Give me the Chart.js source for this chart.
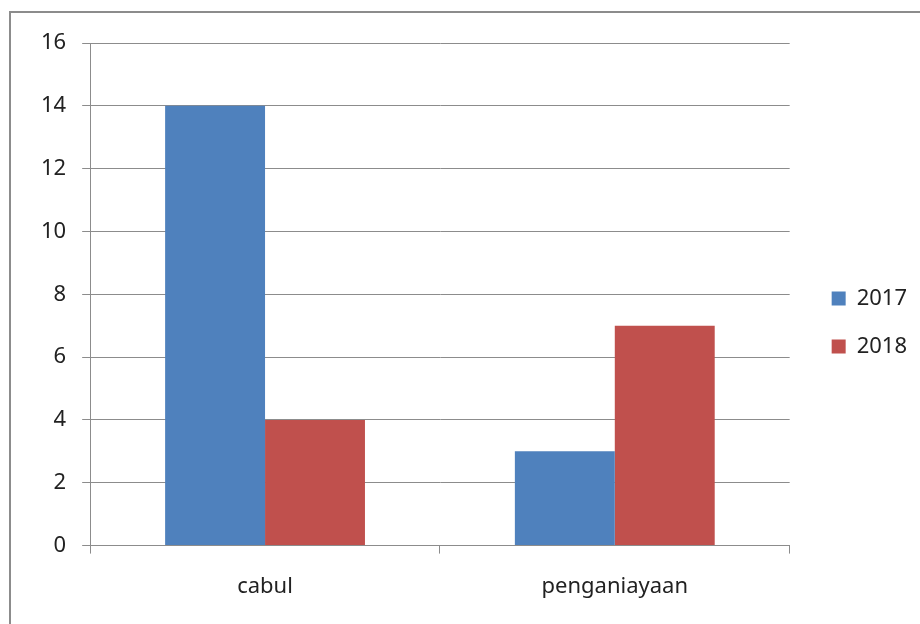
<!DOCTYPE html>
<html>
<head>
<meta charset="utf-8">
<script src="https://cdn.jsdelivr.net/npm/chart.js@4"></script>
<style>
  body { margin: 0; background: #fff; }
  #wrap { position: relative; width: 920px; height: 624px; overflow: hidden; }
  #frame { position: absolute; left: 9px; top: 11px; width: 940px; height: 640px; border: 2px solid #8c8c8c; }
  #grafica { position: absolute; left: 0; top: 0; }
</style>
</head>
<body>
<div id="wrap">
  <div id="frame"></div>
  <canvas id="grafica" width="920" height="624"></canvas>
</div>
<script>
const kategori = ['cabul', 'penganiayaan'];
const tahun = ['2017', '2018'];
const nilai2017 = [14, 3];
const nilai2018 = [4, 7];
const warna = ['rgb(79, 129, 189)', 'rgb(192, 80, 77)'];

// geser legenda sedikit, seperti di Excel
const geserLegenda = {
  id: 'geserLegenda',
  afterLayout(chart) {
    chart.legend.left += 16;
    chart.legend.right += 16;
    chart.legend.top -= 9;
    chart.legend.bottom -= 9;
  }
};

const ctx = document.getElementById('grafica').getContext('2d');
const myChart = new Chart(ctx, {
  type: 'bar',
  data: {
    labels: kategori,
    datasets: [{
      label: tahun[0],
      data: nilai2017,
      backgroundColor: warna[0],
      borderWidth: 0,
      categoryPercentage: 0.5714,
      barPercentage: 1
    }, {
      label: tahun[1],
      data: nilai2018,
      backgroundColor: warna[1],
      borderWidth: 0,
      categoryPercentage: 0.5714,
      barPercentage: 1
    }]
  },
  options: {
    responsive: false,
    animation: false,
    layout: {
      padding: { left: 25, top: 43, right: 19, bottom: 4 }
    },
    plugins: {
      tooltip: { enabled: false },
      legend: {
        position: 'right',
        labels: {
          boxWidth: 14,
          boxHeight: 14,
          padding: 26,
          color: '#222',
          font: { family: 'Noto Sans', size: 22 }
        }
      }
    },
    scales: {
      x: {
        offset: true,
        grid: {
          offset: true,
          drawOnChartArea: false,
          tickLength: 8,
          color: '#8c8c8c'
        },
        border: { color: '#8c8c8c' },
        ticks: {
          color: '#222',
          padding: 20,
          font: { family: 'Noto Sans', size: 22 }
        }
      },
      y: {
        min: 0,
        max: 16,
        ticks: {
          stepSize: 2,
          color: '#222',
          padding: 16,
          font: { family: 'Noto Sans', size: 22 }
        },
        grid: {
          color: '#8c8c8c',
          tickLength: 8
        },
        border: { color: '#8c8c8c' }
      }
    }
  },
  plugins: [geserLegenda]
});
</script>
</body>
</html>
